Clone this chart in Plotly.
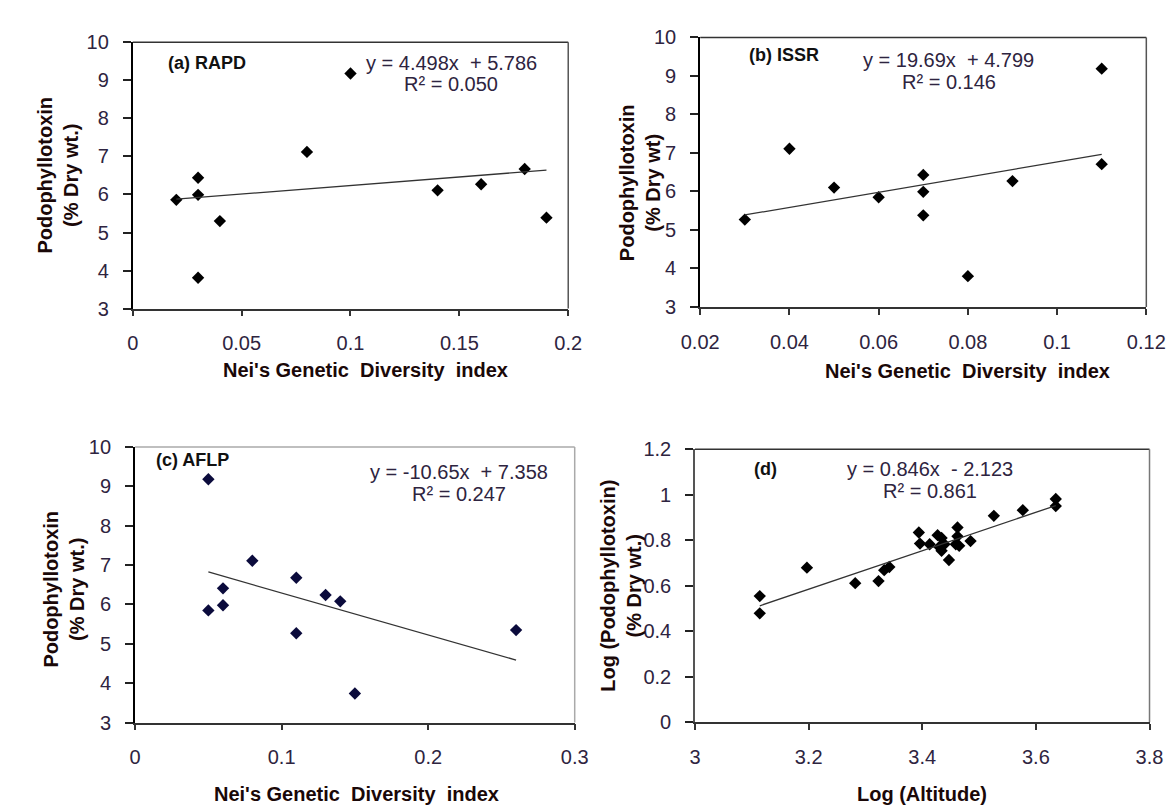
import plotly.graph_objects as go

W, H = 1176, 808

# ---------------- data ----------------
rapd_x = [0.02, 0.03, 0.03, 0.03, 0.04, 0.08, 0.10, 0.14, 0.16, 0.18, 0.19]
rapd_y = [5.86, 6.44, 5.99, 3.81, 5.30, 7.12, 9.18, 6.11, 6.27, 6.67, 5.39]

issr_x = [0.03, 0.04, 0.05, 0.06, 0.07, 0.07, 0.07, 0.08, 0.09, 0.11, 0.11]
issr_y = [5.27, 7.11, 6.10, 5.85, 6.43, 5.99, 5.38, 3.80, 6.27, 9.19, 6.71]

aflp_x = [0.05, 0.05, 0.06, 0.06, 0.08, 0.11, 0.11, 0.13, 0.14, 0.15, 0.26]
aflp_y = [9.18, 5.85, 6.41, 5.98, 7.11, 6.68, 5.27, 6.24, 6.08, 3.74, 5.35]

alt_x = [3.114, 3.114, 3.197, 3.282, 3.323, 3.333, 3.342, 3.394, 3.396, 3.413,
         3.427, 3.434, 3.430, 3.434, 3.439, 3.447, 3.462, 3.462, 3.459, 3.465,
         3.485, 3.526, 3.577, 3.635, 3.635]
alt_y = [0.554, 0.478, 0.679, 0.611, 0.620, 0.668, 0.682, 0.834, 0.785, 0.782,
         0.822, 0.810, 0.770, 0.753, 0.782, 0.713, 0.856, 0.817, 0.782, 0.775,
         0.796, 0.907, 0.932, 0.981, 0.950]

slopes = [4.498, 19.69, -10.65, 0.846]
intercepts = [5.786, 4.799, 7.358, -2.123]
equations = ["y = 4.498x\u00a0 + 5.786", "y = 19.69x\u00a0 + 4.799",
             "y = -10.65x\u00a0 + 7.358", "y = 0.846x\u00a0 - 2.123"]
r2_labels = ["R² = 0.050", "R² = 0.146", "R² = 0.247", "R² = 0.861"]
panel_labels = ["(a) RAPD", "(b) ISSR", "(c) AFLP", "(d)"]
x_titles = ["Nei's Genetic\u00a0 Diversity\u00a0 index", "Nei's Genetic\u00a0 Diversity\u00a0 index",
            "Nei's Genetic\u00a0 Diversity\u00a0 index", "Log (Altitude)"]
y_titles = ["Podophyllotoxin<br>(% Dry wt.)", "Podophyllotoxin<br>(% Dry wt)",
            "Podophyllotoxin<br>(% Dry wt.)", "Log (Podophyllotoxin)<br>(% Dry wt.)"]

xs = [rapd_x, issr_x, aflp_x, alt_x]
ys = [rapd_y, issr_y, aflp_y, alt_y]

# ---------------- layout (pixels) ----------------
boxes = [  # left, right, top, bottom
    (109.3, 559.3, 24.0, 297.7),
    (695.7, 1156.7, 19.0, 296.0),
    (111.7, 566.0, 440.0, 723.3),
    (690.3, 1160.0, 442.3, 722.7),
]
x_ranges = [[0, 0.2], [0.02, 0.12], [0, 0.3], [3, 3.8]]
x_dticks = [0.05, 0.02, 0.1, 0.2]
y_ranges = [[3, 10], [3, 10], [3, 10], [0, 1.2]]
y_dticks = [1, 1, 1, 0.2]
marker_colors = ["#000000", "#000000", "#0b0b3c", "#000000"]
border_colors = ["#555555", "#555555", "#aaaaaa", "#777777"]

label_pos = [(144, 45), (743.6, 37), (131.7, 453), (749, 463)]
eq_pos = [(438.5, 45, 67), (952.5, 41.7, 65), (446, 466, 488), (933, 462.7, 485)]
ytitle_pos = [(32, 160), (634.2, 168), (38, 585.8), (613.5, 583)]
xtitle_pos = [(349.5, 361), (971.6, 361.7), (340, 796.7), (925, 796.7)]

FONT = "Liberation Sans, Arial, sans-serif"
TICK_COLOR = "#2e2440"
TITLE_COLOR = "#1a0808"


def px(x):
    return x / W


def py(y):
    return 1 - y / H


fig = go.Figure()
layout = dict(
    width=W, height=H, margin=dict(l=0, r=0, t=0, b=0),
    paper_bgcolor="white", plot_bgcolor="white", showlegend=False,
    font=dict(family=FONT, color=TICK_COLOR),
)
annotations = []
shapes = []

for i in range(4):
    n = "" if i == 0 else str(i + 1)
    xa, ya = "x" + n, "y" + n
    L, R, T, B = boxes[i]
    layout["xaxis" + n] = dict(
        domain=[px(L), px(R)], anchor=ya, range=x_ranges[i], dtick=x_dticks[i], tick0=x_ranges[i][0],
        showgrid=False, zeroline=False, showline=True, linecolor="#333333", linewidth=1.5,
        ticks="outside", ticklen=6, tickwidth=1.5, tickcolor="#333333",
        tickfont=dict(family=FONT, size=20, color=TICK_COLOR), ticklabelstandoff=10,
    )
    layout["yaxis" + n] = dict(
        domain=[py(B), py(T)], anchor=xa, range=y_ranges[i], dtick=y_dticks[i], tick0=y_ranges[i][0],
        showgrid=False, zeroline=False, showline=True,
        linecolor="#000000" if i < 3 else "#555555", linewidth=2 if i < 3 else 1.5,
        ticks="outside", ticklen=8, tickwidth=1.5, tickcolor="#222222",
        tickfont=dict(family=FONT, size=20, color=TICK_COLOR), ticklabelstandoff=10,
    )
    # top and right frame lines
    shapes.append(dict(type="line", xref=xa + " domain", yref=ya + " domain", x0=0, x1=1, y0=1, y1=1,
                       line=dict(color=border_colors[i] if i == 2 else "#333333", width=1.5)))
    shapes.append(dict(type="line", xref=xa + " domain", yref=ya + " domain", x0=1, x1=1, y0=0, y1=1,
                       line=dict(color=border_colors[i], width=1.5)))

    # scatter points
    fig.add_trace(go.Scatter(
        x=xs[i], y=ys[i], mode="markers", xaxis=xa, yaxis=ya,
        marker=dict(symbol="diamond", size=9.5, color=marker_colors[i], line=dict(width=0)),
    ))
    # linear trend line from the regression coefficients
    x0, x1 = min(xs[i]), max(xs[i])
    fig.add_trace(go.Scatter(
        x=[x0, x1], y=[slopes[i] * x0 + intercepts[i], slopes[i] * x1 + intercepts[i]],
        mode="lines", xaxis=xa, yaxis=ya, line=dict(color="#333333", width=1.3),
    ))

    # texts
    lx, ly = label_pos[i]
    annotations.append(dict(text=panel_labels[i], x=px(lx), y=py(ly), xref="paper", yref="paper",
                            xanchor="left", yanchor="middle", showarrow=False,
                            font=dict(family=FONT, size=18, color="#111111", weight="bold")))
    ex, ey1, ey2 = eq_pos[i]
    annotations.append(dict(text=equations[i], x=px(ex), y=py(ey1), xref="paper", yref="paper",
                            xanchor="center", yanchor="middle", showarrow=False,
                            font=dict(family=FONT, size=20, color=TICK_COLOR)))
    annotations.append(dict(text=r2_labels[i], x=px(ex), y=py(ey2), xref="paper", yref="paper",
                            xanchor="center", yanchor="middle", showarrow=False,
                            font=dict(family=FONT, size=20, color=TICK_COLOR)))
    tx, ty = ytitle_pos[i]
    annotations.append(dict(text=y_titles[i], x=px(tx), y=py(ty), xref="paper", yref="paper",
                            xanchor="center", yanchor="middle", showarrow=False, textangle=-90,
                            font=dict(family=FONT, size=20, color=TITLE_COLOR, weight="bold")))
    xx, xy = xtitle_pos[i]
    annotations.append(dict(text=x_titles[i], x=px(xx), y=py(xy), xref="paper", yref="paper",
                            xanchor="center", yanchor="middle", showarrow=False,
                            font=dict(family=FONT, size=20, color=TITLE_COLOR, weight="bold")))

layout["annotations"] = annotations
layout["shapes"] = shapes
fig.update_layout(**layout)
fig.write_html("out.html")
